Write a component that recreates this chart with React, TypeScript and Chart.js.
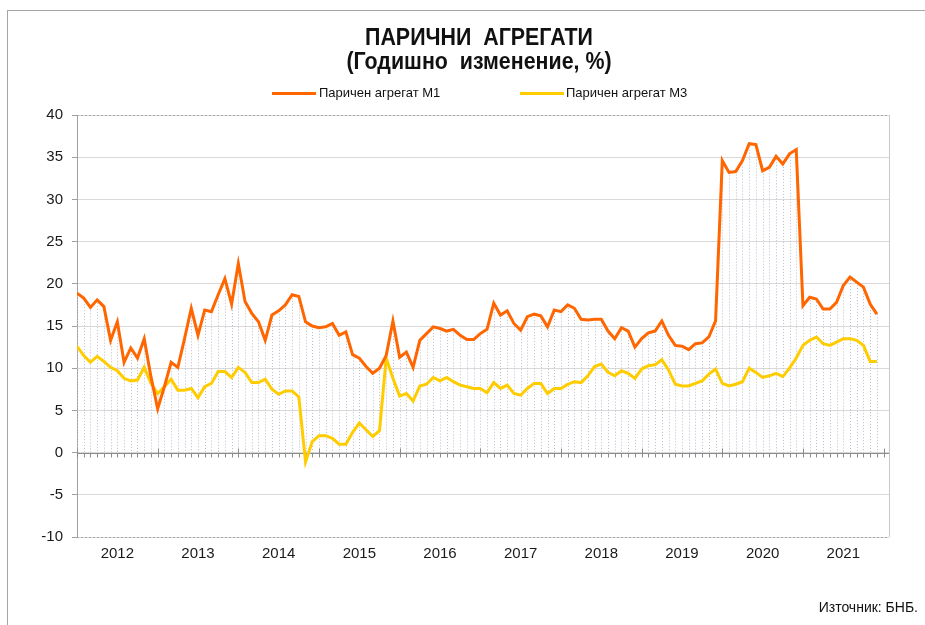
import React, { useEffect, useRef } from "react";
import { Chart, registerables } from "chart.js";

Chart.register(...registerables);

const years = ["2012", "2013", "2014", "2015", "2016", "2017", "2018", "2019", "2020", "2021"];

// Monthly, Jan 2012 - Dec 2021, annual change %
const m1Values = [
  18.9, 18.3, 17.2, 18.1, 17.3, 13.3, 15.5, 10.7, 12.4, 11.2, 13.5, 9.0,
  5.2, 7.8, 10.7, 10.1, 13.5, 17.1, 13.9, 16.9, 16.7, 18.7, 20.6, 17.6,
  22.4, 17.9, 16.5, 15.5, 13.3, 16.3, 16.8, 17.5, 18.7, 18.5, 15.5, 15.0,
  14.8, 14.9, 15.3, 13.9, 14.3, 11.6, 11.2, 10.2, 9.4, 10.0, 11.5, 15.6,
  11.3, 11.9, 10.1, 13.3, 14.1, 14.9, 14.7, 14.4, 14.6, 13.9, 13.4, 13.4,
  14.1, 14.6, 17.7, 16.3, 16.8, 15.3, 14.5, 16.1, 16.4, 16.2, 14.9, 16.9,
  16.7, 17.5, 17.1, 15.8, 15.7, 15.8, 15.8, 14.4, 13.5, 14.8, 14.4, 12.5,
  13.5, 14.2, 14.4, 15.6, 13.9, 12.7, 12.6, 12.2, 12.9, 13.0, 13.7, 15.6,
  34.6, 33.2, 33.3, 34.6, 36.6, 36.5, 33.4, 33.8, 35.1, 34.2, 35.4, 35.9,
  17.4, 18.4, 18.2, 17.0, 17.0, 17.8, 19.8, 20.8, 20.2, 19.6, 17.6, 16.4,
];

const m3Values = [
  12.6, 11.5, 10.7, 11.4, 10.8, 10.1, 9.7, 8.8, 8.5, 8.6, 10.1, 8.2,
  7.0, 7.8, 8.7, 7.4, 7.4, 7.6, 6.5, 7.8, 8.2, 9.6, 9.6, 8.9,
  10.1, 9.5, 8.3, 8.3, 8.7, 7.5, 6.9, 7.3, 7.3, 6.6, -1.1, 1.3,
  2.0, 2.0, 1.7, 1.0, 1.0, 2.4, 3.5, 2.7, 1.9, 2.6, 11.2, 8.8,
  6.7, 7.0, 6.1, 7.9, 8.1, 8.9, 8.5, 8.9, 8.4, 8.0, 7.8, 7.6,
  7.6, 7.1, 8.3, 7.6, 8.0, 7.0, 6.8, 7.6, 8.2, 8.2, 7.0, 7.6,
  7.6, 8.1, 8.4, 8.3, 9.1, 10.2, 10.5, 9.5, 9.1, 9.7, 9.4, 8.8,
  9.9, 10.3, 10.4, 11.0, 9.8, 8.1, 7.9, 7.9, 8.2, 8.5, 9.3, 9.9,
  8.2, 7.9, 8.1, 8.4, 10.0, 9.5, 8.9, 9.1, 9.4, 9.0, 10.0, 11.2,
  12.7, 13.3, 13.7, 12.9, 12.7, 13.1, 13.5, 13.5, 13.3, 12.7, 10.8, 10.8,
];

const seriesLabels = ["Паричен агрегат М1", "Паричен агрегат М3"];
const seriesColors = ["#FF6600", "#FFCC00"];
const yTicks = { min: -10, max: 40, step: 5 };

const AXIS_FONT = "'Liberation Sans', Arial, sans-serif";

const decorPlugin = {
  id: "decor",
  beforeDatasetsDraw(chart: any) {
    const { ctx, chartArea } = chart;
    const xs = chart.scales.x;
    const ys = chart.scales.y;
    const y0 = ys.getPixelForValue(0);
    ctx.save();
    // drop lines
    ctx.strokeStyle = "#bcbcd0";
    ctx.lineWidth = 1;
    ctx.setLineDash([1, 2]);
    for (let i = 0; i < m1Values.length; i++) {
      const top = Math.max(m1Values[i], m3Values[i]);
      if (top <= 0) continue;
      const x = Math.round(xs.getPixelForValue(i)) + 0.5;
      ctx.beginPath();
      ctx.moveTo(x, ys.getPixelForValue(top));
      ctx.lineTo(x, y0);
      ctx.stroke();
    }
    // top / bottom dotted borders
    ctx.strokeStyle = "#a8a8a8";
    ctx.setLineDash([2, 2]);
    [chartArea.top, chartArea.bottom].forEach((yy: number) => {
      ctx.beginPath();
      ctx.moveTo(chartArea.left, Math.round(yy) + 0.5);
      ctx.lineTo(chartArea.right, Math.round(yy) + 0.5);
      ctx.stroke();
    });
    ctx.setLineDash([]);
    // right border
    ctx.strokeStyle = "#c8c8c8";
    ctx.beginPath();
    ctx.moveTo(Math.round(chartArea.right) + 0.5, chartArea.top);
    ctx.lineTo(Math.round(chartArea.right) + 0.5, chartArea.bottom);
    ctx.stroke();
    // category axis at zero
    const yy = Math.round(y0) + 0.5;
    ctx.strokeStyle = "#8c8c8c";
    ctx.beginPath();
    ctx.moveTo(chartArea.left, yy);
    ctx.lineTo(chartArea.right, yy);
    ctx.stroke();
    for (let i = 0; i <= 120; i++) {
      const x = Math.round(xs.getPixelForValue(i)) + 0.5;
      ctx.beginPath();
      if (i % 12 === 0) {
        ctx.moveTo(x, yy - 5);
        ctx.lineTo(x, yy + 4);
      } else {
        ctx.moveTo(x, yy);
        ctx.lineTo(x, yy + 4);
      }
      ctx.stroke();
    }
    ctx.restore();
  },
};

export default function App() {
  const canvasRef = useRef<HTMLCanvasElement | null>(null);

  useEffect(() => {
    if (!canvasRef.current) return;
    const chart = new Chart(canvasRef.current, {
      type: "line",
      data: {
        datasets: [
          {
            label: seriesLabels[0],
            data: m1Values.map((y, i) => ({ x: i, y })),
            borderColor: seriesColors[0],
            backgroundColor: seriesColors[0],
            borderWidth: 3,
            pointRadius: 0,
            tension: 0,
          },
          {
            label: seriesLabels[1],
            data: m3Values.map((y, i) => ({ x: i, y })),
            borderColor: seriesColors[1],
            backgroundColor: seriesColors[1],
            borderWidth: 3,
            pointRadius: 0,
            tension: 0,
          },
        ],
      },
      options: {
        responsive: false,
        animation: false,
        layout: { padding: { top: 115, right: 36, bottom: 0, left: 0 } },
        plugins: {
          legend: { display: false },
          title: { display: false },
          tooltip: { enabled: false },
        },
        scales: {
          x: {
            type: "linear",
            min: 0,
            max: 120.8,
            afterBuildTicks: (scale: any) => {
              scale.ticks = years.map((_, k) => ({ value: 6 + 12 * k }));
            },
            afterFit: (scale: any) => {
              scale.height = 88;
            },
            ticks: {
              autoSkip: false,
              maxRotation: 0,
              padding: 8,
              color: "#1a1a1a",
              font: { family: AXIS_FONT, size: 15 },
              callback: (_v: any, index: number) => years[index],
            },
            grid: { display: false, drawTicks: false },
            border: { display: false },
          },
          y: {
            min: yTicks.min,
            max: yTicks.max,
            afterFit: (scale: any) => {
              scale.width = 77;
            },
            ticks: {
              stepSize: yTicks.step,
              padding: 9,
              color: "#1a1a1a",
              font: { family: AXIS_FONT, size: 15 },
            },
            grid: { color: "#d9d9d9", tickColor: "#a0a0a0", tickLength: 5, lineWidth: 1 },
            border: { color: "#a0a0a0", width: 1 },
          },
        },
      },
      plugins: [decorPlugin],
    });
    return () => chart.destroy();
  }, []);

  const titleStyle: React.CSSProperties = {
    position: "absolute",
    left: 0,
    width: 958,
    textAlign: "center",
    fontFamily: "'Liberation Sans', Arial, sans-serif",
    fontWeight: "bold",
    fontSize: 23,
    lineHeight: "23px",
    color: "#111",
    transform: "scaleX(0.93)",
    transformOrigin: "479px 0",
    whiteSpace: "pre",
  };
  const legendText: React.CSSProperties = {
    position: "absolute",
    top: 85,
    fontFamily: "'Liberation Sans', Arial, sans-serif",
    fontSize: 13,
    lineHeight: "16px",
    color: "#111",
    whiteSpace: "nowrap",
  };

  return (
    <div
      style={{
        position: "fixed",
        left: 0,
        top: 0,
        width: 925,
        height: 625,
        overflow: "hidden",
        background: "#fff",
      }}
    >
      <div
        style={{
          position: "absolute",
          left: 7,
          top: 10,
          width: 1000,
          height: 700,
          border: "1px solid #a6a6a6",
        }}
      />
      <canvas
        ref={canvasRef}
        width={925}
        height={625}
        style={{ position: "absolute", left: 0, top: 0, width: 925, height: 625 }}
      />
      <div style={{ ...titleStyle, top: 26 }}>ПАРИЧНИ  АГРЕГАТИ</div>
      <div style={{ ...titleStyle, top: 50 }}>(Годишно  изменение, %)</div>
      <div style={{ position: "absolute", left: 272, top: 92, width: 44, height: 3, background: seriesColors[0] }} />
      <div style={{ ...legendText, left: 319 }}>{seriesLabels[0]}</div>
      <div style={{ position: "absolute", left: 520, top: 92, width: 44, height: 3, background: seriesColors[1] }} />
      <div style={{ ...legendText, left: 566 }}>{seriesLabels[1]}</div>
      <div
        style={{
          position: "absolute",
          right: 7,
          top: 598,
          fontFamily: "'Liberation Sans', Arial, sans-serif",
          fontSize: 14,
          lineHeight: "18px",
          color: "#111",
          whiteSpace: "nowrap",
        }}
      >
        Източник: БНБ.
      </div>
    </div>
  );
}
